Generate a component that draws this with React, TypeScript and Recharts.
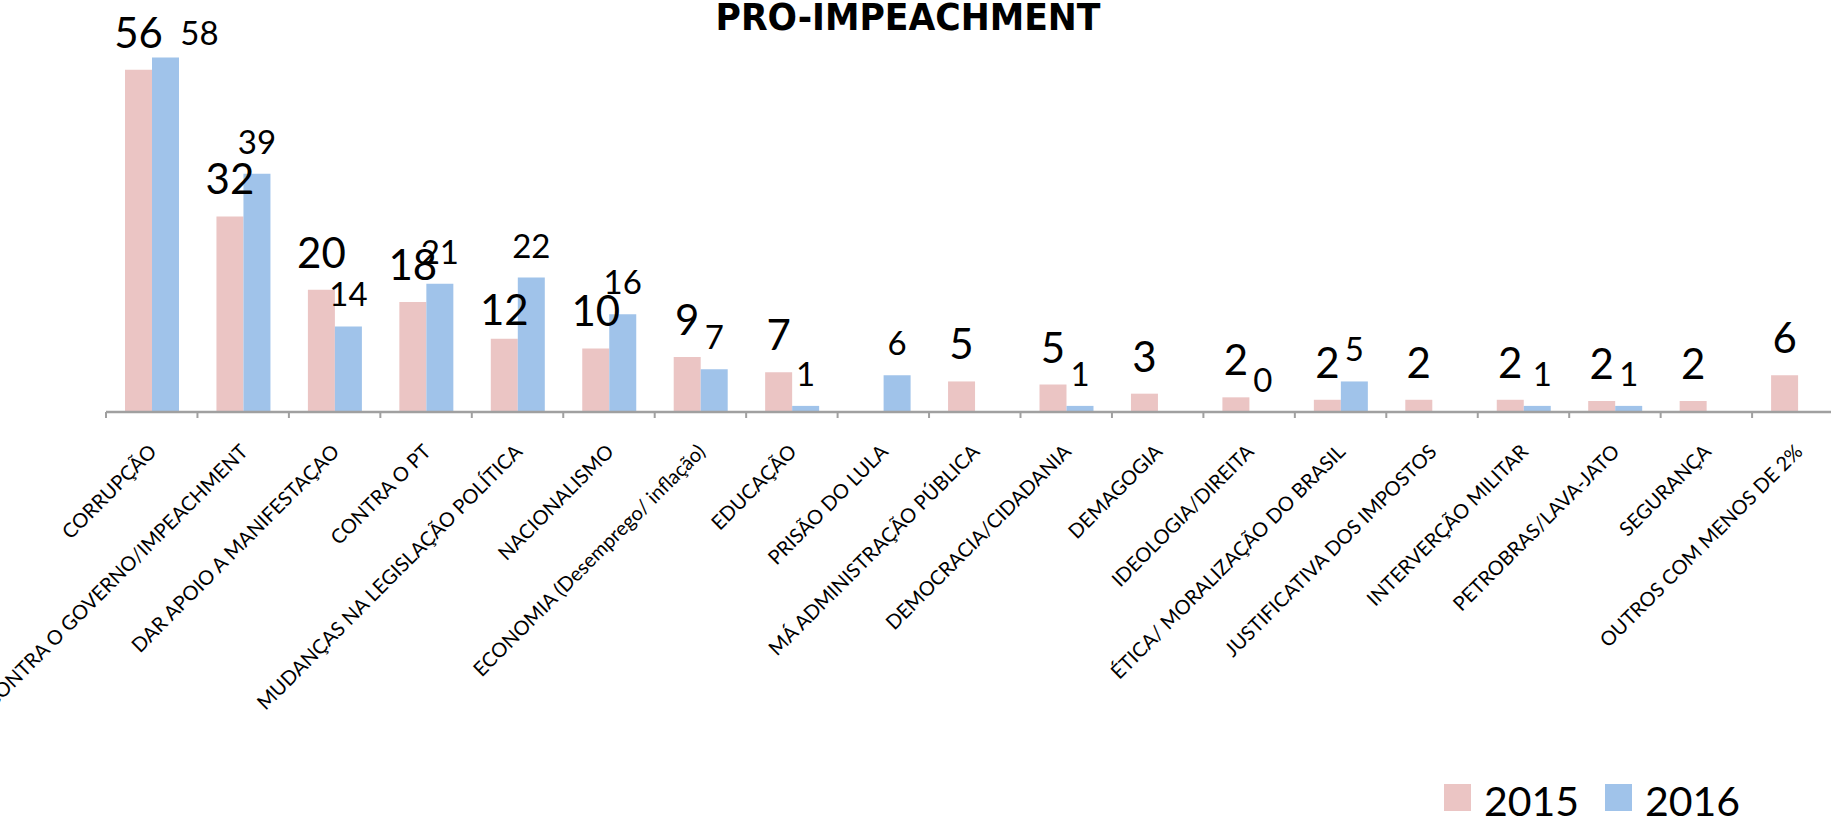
import { BarChart, Bar, XAxis, YAxis, LabelList, Legend } from "recharts";

// survey answers, % of respondents
const categories = [
  "CORRUPÇÃO",
  "CONTRA O GOVERNO/IMPEACHMENT",
  "DAR APOIO A MANIFESTAÇAO",
  "CONTRA O PT",
  "MUDANÇAS NA LEGISLAÇÃO POLÍTICA",
  "NACIONALISMO",
  "ECONOMIA (Desemprego/ inflação)",
  "EDUCAÇÃO",
  "PRISÃO DO LULA",
  "MÁ ADMINISTRAÇÃO PÚBLICA",
  "DEMOCRACIA/CIDADANIA",
  "DEMAGOGIA",
  "IDEOLOGIA/DIREITA",
  "ÉTICA/ MORALIZAÇÃO DO BRASIL",
  "JUSTIFICATIVA DOS IMPOSTOS",
  "INTERVERÇÃO MILITAR",
  "PETROBRAS/LAVA-JATO",
  "SEGURANÇA",
  "OUTROS COM MENOS DE 2%",
];

const values2015 = [56, 32, 20, 18, 12, 10.4, 9, 6.5, null, 5, 4.5, 3, 2.4, 2, 2, 2, 1.8, 1.8, 6];
const values2016 = [58, 39, 14, 21, 22, 16, 7, 1, 6, null, 1, null, 0, 5, null, 1, 1, null, null];

const seriesNames = ["2015", "2016"];
const seriesColors = ["#EBC5C4", "#A0C3EA"];

const data = categories.map((name, i) => ({
  name,
  v2015: values2015[i],
  v2016: values2016[i],
}));

const CHART_W = 1841;
const CHART_H = 819;
const PLOT_LEFT = 106;
const BAND = 91.45;
const PLOT_TOP = 45.4;
const AXIS_Y = 412;
const X_AXIS_H = 30;
const AXIS_COLOR = "#A0A0A0";
const FONT = "Lato, 'Open Sans', sans-serif";

function CategoryTick(props: any) {
  const { x, y, payload, index } = props;
  const ax = x + 6;
  const ay = y + 41;
  const left = x - BAND / 2;
  return (
    <g>
      <line x1={left} y1={y} x2={left} y2={y + 6} stroke={AXIS_COLOR} strokeWidth={2} />
      {index === categories.length - 1 && (
        <line x1={x + BAND / 2} y1={y} x2={x + BAND / 2} y2={y + 6} stroke={AXIS_COLOR} strokeWidth={2} />
      )}
      <text
        x={ax}
        y={ay}
        textAnchor="end"
        transform={`rotate(-45, ${ax}, ${ay})`}
        fontSize={20}
        fontFamily={FONT}
        fill="#000"
      >
        {payload.value}
      </text>
    </g>
  );
}

// a couple of labels sit off their usual spot in the original
const nudge2015: Record<number, [number, number]> = { 4: [0, 8] };
const nudge2016: Record<number, [number, number]> = { 0: [34, 7], 12: [5, 0] };

function makeLabel(offset: number, fontSize: number, nudges: Record<number, [number, number]>) {
  return (props: any) => {
    const vb = props.viewBox || props;
    const { value, index } = props;
    if (value == null) return null;
    const n = nudges[index] || [0, 0];
    return (
      <text
        x={vb.x + vb.width / 2 + n[0]}
        y={vb.y - offset + n[1]}
        textAnchor="middle"
        fontSize={fontSize}
        fontFamily={FONT}
        fill="#000"
      >
        {Math.round(value)}
      </text>
    );
  };
}

function LegendContent(props: any) {
  const payload = props.payload || [];
  return (
    <svg width={330} height={50}>
      {payload.map((item: any, i: number) => (
        <g key={item.value}>
          <rect x={4 + i * 161} y={14} width={27} height={27} fill={item.color} />
          <text x={44 + i * 161} y={46} fontSize={41} fontFamily={FONT} fill="#000">
            {item.value}
          </text>
        </g>
      ))}
    </svg>
  );
}

export default function App() {
  return (
    <div
      style={{
        position: "absolute",
        left: 0,
        top: 0,
        width: 1831,
        height: 819,
        overflow: "hidden",
        background: "#fff",
      }}
    >
      <BarChart
        width={CHART_W}
        height={CHART_H}
        data={data}
        margin={{
          top: PLOT_TOP,
          left: PLOT_LEFT,
          right: CHART_W - PLOT_LEFT - BAND * categories.length,
          bottom: CHART_H - AXIS_Y - X_AXIS_H,
        }}
        barCategoryGap={19}
        barGap={0}
      >
        <XAxis
          dataKey="name"
          interval={0}
          height={X_AXIS_H}
          tickSize={0}
          tickMargin={0}
          tickLine={false}
          axisLine={{ stroke: AXIS_COLOR, strokeWidth: 2.5 }}
          tick={<CategoryTick />}
        />
        <YAxis hide domain={[0, 60]} />
        <Legend
          layout="horizontal"
          verticalAlign="middle"
          align="center"
          content={<LegendContent />}
          wrapperStyle={{ left: 1440, top: 770, width: 330, height: 50 }}
        />
        <Bar dataKey="v2015" name={seriesNames[0]} fill={seriesColors[0]} isAnimationActive={false}>
          <LabelList dataKey="v2015" content={makeLabel(22, 42, nudge2015)} />
        </Bar>
        <Bar
          dataKey="v2016"
          name={seriesNames[1]}
          fill={seriesColors[1]}
          minPointSize={0.01}
          isAnimationActive={false}
        >
          <LabelList dataKey="v2016" content={makeLabel(20, 33, nudge2016)} />
        </Bar>
      </BarChart>
      <svg
        width={1831}
        height={50}
        style={{ position: "absolute", left: 0, top: 0, pointerEvents: "none" }}
      >
        <text
          x={908}
          y={30}
          textAnchor="middle"
          fontFamily="'DejaVu Sans', sans-serif"
          fontWeight="bold"
          fontSize={38}
          textLength={385}
          lengthAdjust="spacingAndGlyphs"
          fill="#000"
        >
          PRO-IMPEACHMENT
        </text>
      </svg>
    </div>
  );
}
